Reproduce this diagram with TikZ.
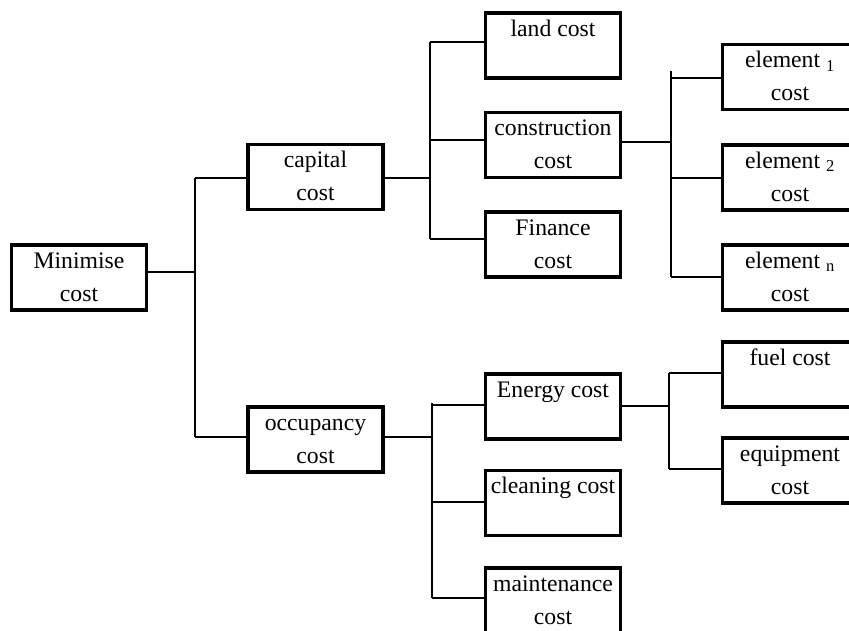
\documentclass[tikz,border=0pt]{standalone}
\usepackage{fontspec}
\setmainfont{Liberation Serif}
\newcommand\boxtext[1]{\parbox[c][65pt][t]{135pt}{\centering\fontsize{23.7}{33}\selectfont\strut #1}}
\begin{document}
\begin{tikzpicture}[x=1pt,y=-1pt,
  box/.style={draw, line width=3.3pt, inner sep=0pt, outer sep=0pt, minimum width=135pt, minimum height=65pt},
  conn/.style={line width=2pt}]
\clip (0,0) rectangle (849,630);
% boxes
\node[box] (min)  at (79,277.5)   {\boxtext{Minimise\\cost}};
\node[box] (cap)  at (315.5,177)  {\boxtext{capital\\cost}};
\node[box] (occ)  at (315.5,439.5){\boxtext{occupancy\\cost}};
\node[box] (land) at (553,45.5)   {\boxtext{land cost}};
\node[box] (cons) at (553,145)    {\boxtext{construction\\cost}};
\node[box] (fin)  at (553,244.5)  {\boxtext{Finance\\cost}};
\node[box] (ener) at (553,406.5)  {\boxtext{Energy cost}};
\node[box] (clea) at (553,503)    {\boxtext{cleaning cost}};
\node[box] (main) at (553,600.5)  {\boxtext{maintenance\\cost}};
\node[box] (el1)  at (790,77)     {\boxtext{element \textsubscript{1}\\cost}};
\node[box] (el2)  at (790,177.5)  {\boxtext{element \textsubscript{2}\\cost}};
\node[box] (eln)  at (790,277.5)  {\boxtext{element \textsubscript{n}\\cost}};
\node[box] (fuel) at (790,374.5)  {\boxtext{fuel cost}};
\node[box] (equi) at (790,470.5)  {\boxtext{equipment\\cost}};
% trunk 1
\coordinate (a1) at (195,178);
\coordinate (a2) at (195,437);
\coordinate (am) at (195,272);
\draw[conn] (a1) -- (a2);
\draw[conn] (min.east |- am) -- (am);
\draw[conn] (a1) -- (cap.west |- a1);
\draw[conn] (a2) -- (occ.west |- a2);
% trunk 2
\coordinate (b1) at (430,42);
\coordinate (b2) at (430,140);
\coordinate (b3) at (430,239);
\coordinate (bm) at (430,178);
\draw[conn] (b1) -- (b3);
\draw[conn] (cap.east |- bm) -- (bm);
\draw[conn] (b1) -- (land.west |- b1);
\draw[conn] (b2) -- (cons.west |- b2);
\draw[conn] (b3) -- (fin.west |- b3);
% trunk 3
\coordinate (c0) at (671,71);
\coordinate (c1) at (671,78);
\coordinate (c2) at (671,178);
\coordinate (c3) at (671,277);
\coordinate (cm) at (671,142);
\draw[conn] (c0) -- (c3);
\draw[conn] (cons.east |- cm) -- (cm);
\draw[conn] (c1) -- (el1.west |- c1);
\draw[conn] (c2) -- (el2.west |- c2);
\draw[conn] (c3) -- (eln.west |- c3);
% trunk 4
\coordinate (d0) at (432,403);
\coordinate (d1) at (432,405);
\coordinate (d2) at (432,502);
\coordinate (d3) at (432,598);
\coordinate (dm) at (432,437);
\draw[conn] (d0) -- (d3);
\draw[conn] (occ.east |- dm) -- (dm);
\draw[conn] (d1) -- (ener.west |- d1);
\draw[conn] (d2) -- (clea.west |- d2);
\draw[conn] (d3) -- (main.west |- d3);
% trunk 5
\coordinate (e1) at (669,373);
\coordinate (e2) at (669,469);
\coordinate (em) at (669,406);
\draw[conn] (e1) -- (e2);
\draw[conn] (ener.east |- em) -- (em);
\draw[conn] (e1) -- (fuel.west |- e1);
\draw[conn] (e2) -- (equi.west |- e2);
\end{tikzpicture}
\end{document}
